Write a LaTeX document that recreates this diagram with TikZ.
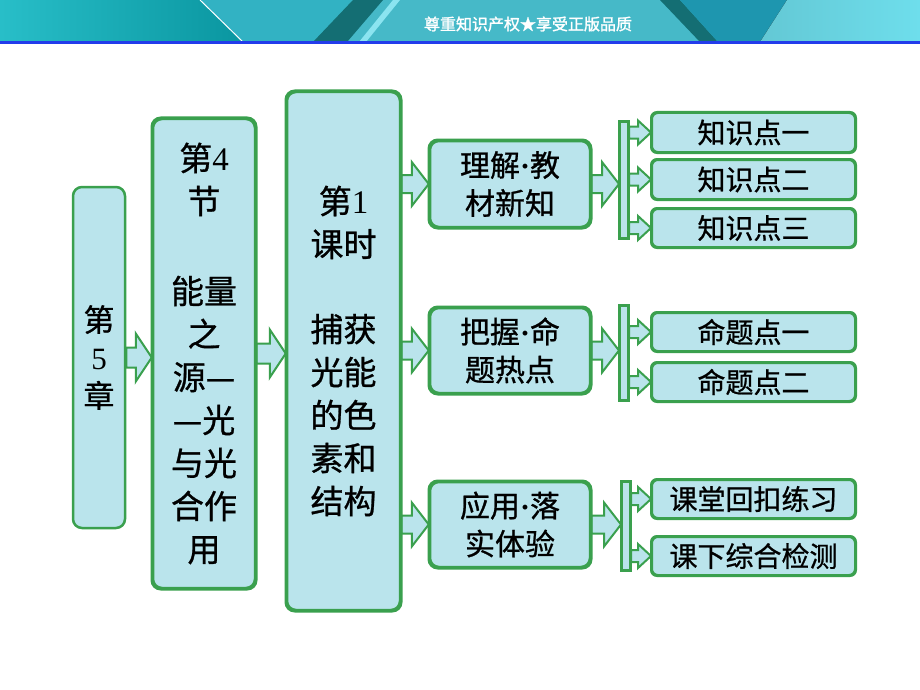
\documentclass[tikz,border=0pt]{standalone}
\usepackage{fontspec}
\setmainfont{Liberation Serif}
\newfontfamily\cjk[FakeBold=0.8]{Noto Sans CJK SC}
\newfontfamily\cjkhd[FakeBold=1.5]{Noto Sans CJK SC}
\usetikzlibrary{calc}
\definecolor{bgreen}{RGB}{58,160,78}
\definecolor{aqua}{RGB}{186,228,236}
\definecolor{hdA}{RGB}{40,190,200}
\definecolor{hdB}{RGB}{10,150,160}
\definecolor{hdC}{RGB}{50,178,195}
\definecolor{hdD}{RGB}{70,185,200}
\definecolor{hdDark}{RGB}{20,110,115}
\definecolor{hdMid}{RGB}{30,150,175}
\definecolor{hdLight}{RGB}{110,222,236}
\definecolor{hdBlue}{RGB}{35,60,235}
\tikzset{
  box/.style={draw=bgreen, line width=2.5pt, rounded corners=9pt, fill=aqua,
    inner sep=0pt, align=center},
  bigtxt/.style={font=\cjk\fontsize{33}{43}\selectfont},
  midtxt/.style={font=\cjk\fontsize{30}{38}\selectfont},
  leaf/.style={draw=bgreen, line width=2pt, rounded corners=6pt, fill=aqua,
    inner sep=0pt, minimum width=203pt, font=\cjk\fontsize{28}{30}\selectfont},
  bar/.style={draw=bgreen, line width=2pt, fill=aqua, inner sep=0pt, minimum width=8pt},
  arrowst/.style={draw=bgreen, line width=2pt, fill=aqua, line join=miter},
}
\newcommand\barrow[5]{\draw[arrowst] let \p1=#1, \p2=#2 in
  (\x1,\y1+#3pt) -- (\x2-#5pt,\y1+#3pt) -- (\x2-#5pt,\y1+#4pt) -- (\x2,\y1)
  -- (\x2-#5pt,\y1-#4pt) -- (\x2-#5pt,\y1-#3pt) -- (\x1,\y1-#3pt) -- cycle;}
\newcommand\mdot{{\rmfamily\bfseries\textperiodcentered}}
\begin{document}
\begin{tikzpicture}[x=1pt,y=-1pt]
\useasboundingbox (0,0) rectangle (920,690);
\fill[white] (0,0) rectangle (920,690);
% header
\fill[left color=hdA, right color=hdB] (0,0) rectangle (243,42);
\fill[hdC] (200,0) -- (920,0) -- (920,42) -- (243,42) -- cycle;
\fill[hdD] (383,0) -- (660,0) -- (700,42) -- (347,42) -- cycle;
\fill[hdDark] (353,0) -- (383,0) -- (347,42) -- (313,42) -- cycle;
\fill[hdLight!80!white] (393,0) -- (400,0) -- (366,42) -- (359,42) -- cycle;
\fill[hdDark] (660,0) -- (680,0) -- (718,42) -- (700,42) -- cycle;
\fill[hdMid] (680,0) -- (787,0) -- (760,42) -- (718,42) -- cycle;
\fill[left color=hdLight!90!black, right color=hdLight] (787,0) -- (920,0) -- (920,42) -- (760,42) -- cycle;
\draw[white, line width=1pt] (200,0) -- (243,42);
\fill[hdBlue] (0,41.5) rectangle (920,44.5);
\node[text=white, font=\cjkhd\fontsize{16}{16}\selectfont] (hdr) at (528,24) {尊重知识产权★享受正版品质};
% nodes
\node[box, minimum width=52pt, minimum height=341pt, font=\cjk\fontsize{31}{38}\selectfont] (A) at (99,357.5) {第\\{\rmfamily 5}\\章};
\node[box, bigtxt, minimum width=102pt, minimum height=469pt] (B) at (204,353.5)
  {第{\rmfamily 4}\\节\\[47pt]能量\\之\\源—\\—光\\与光\\合作\\用};
\node[box, bigtxt, minimum width=113pt, minimum height=518pt] (C) at (343.5,351)
  {第{\rmfamily 1}\\课时\\[42pt]捕获\\光能\\的色\\素和\\结构};
\node[box, midtxt, minimum width=160pt, minimum height=86pt] (D1) at (510,184) {理解\mdot 教\\材新知};
\node[box, midtxt, minimum width=160pt, minimum height=85pt] (D2) at (510,350.5) {把握\mdot 命\\题热点};
\node[box, midtxt, minimum width=160pt, minimum height=85pt] (D3) at (510,524.5) {应用\mdot 落\\实体验};
\node[bar, minimum height=116pt] (bar1) at (624,180) {};
\node[bar, minimum height=94pt] (bar2) at (624,353) {};
\node[bar, minimum height=88pt] (bar3) at (626,526) {};
\node[leaf, minimum height=39pt] (K1) at (753.5,132.5) {知识点一};
\node[leaf, minimum height=39pt] (K2) at (753.5,179.5) {知识点二};
\node[leaf, minimum height=38pt] (K3) at (753.5,228) {知识点三};
\node[leaf, minimum height=38pt] (M1) at (753.5,332) {命题点一};
\node[leaf, minimum height=38pt] (M2) at (753.5,382) {命题点二};
\node[leaf, minimum height=38pt] (L1) at (753.5,499) {课堂回扣练习};
\node[leaf, minimum height=38pt] (L2) at (753.5,556) {课下综合检测};
% block arrows
\barrow{(A.east)}{(B.west)}{10}{24}{16}
\barrow{(B.east)}{(C.west)}{10}{24}{16}
\barrow{(C.east |- D1.west)}{(D1.west)}{9}{22}{17}
\barrow{(C.east |- D2.west)}{(D2.west)}{9}{22}{17}
\barrow{(C.east |- D3.west)}{(D3.west)}{9}{22}{17}
\barrow{(D1.east)}{(bar1.west)}{9}{22}{17}
\barrow{(D2.east)}{(bar2.west)}{9}{22}{17}
\barrow{(D3.east)}{(bar3.west)}{9}{22}{17}
\barrow{(bar1.east |- K1.west)}{(K1.west)}{6}{12}{13}
\barrow{(bar1.east |- K2.west)}{(K2.west)}{6}{12}{13}
\barrow{(bar1.east |- K3.west)}{(K3.west)}{6}{12}{13}
\barrow{(bar2.east |- M1.west)}{(M1.west)}{6}{12}{13}
\barrow{(bar2.east |- M2.west)}{(M2.west)}{6}{12}{13}
\barrow{(bar3.east |- L1.west)}{(L1.west)}{6}{12}{13}
\barrow{(bar3.east |- L2.west)}{(L2.west)}{6}{12}{13}
% redraw borders on top of arrow ends
\foreach \n in {B,C,D1,D2,D3} \draw[bgreen, line width=2.5pt, rounded corners=9pt] (\n.south west) rectangle (\n.north east);
\foreach \n in {K1,K2,K3,M1,M2,L1,L2} \draw[bgreen, line width=2pt, rounded corners=6pt] (\n.south west) rectangle (\n.north east);
\foreach \n in {bar1,bar2,bar3} \draw[bgreen, line width=2pt] (\n.south west) rectangle (\n.north east);
\end{tikzpicture}
\end{document}
